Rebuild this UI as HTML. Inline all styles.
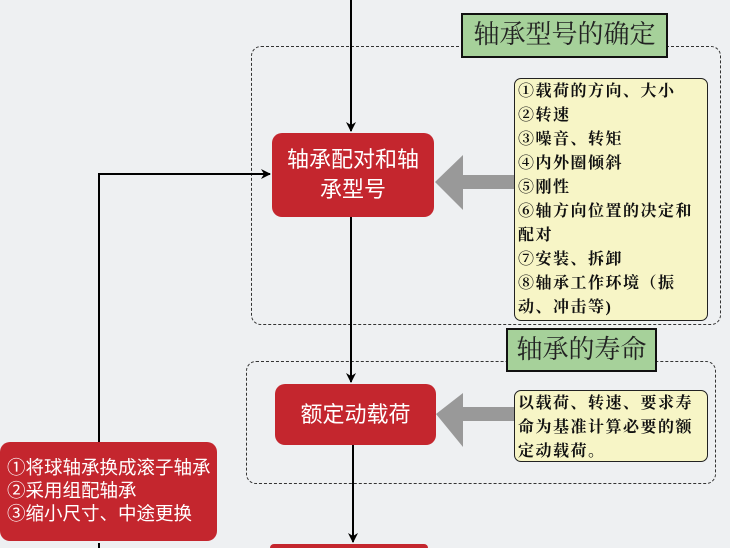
<!DOCTYPE html>
<html style="width:730px;height:548px;overflow:hidden"><head><meta charset="utf-8"><style>
body{margin:0;width:730px;height:548px;overflow:hidden;background:#eef0f2;font-family:"Liberation Sans","Noto Sans CJK SC",sans-serif;position:relative}
div{position:absolute;box-sizing:border-box}
.dash{border:1px dashed #333;border-radius:10px}
.green{background:#a6d19a;border:2px solid #111;font-size:26px;color:#222;text-align:center;line-height:40px;font-family:"Liberation Serif","Noto Serif CJK SC",serif}
.red{background:#c4262e;border-radius:10px;color:#fff;text-align:center}
.yel{background:#f7f5c6;border:1px solid #222;border-radius:7px;font-size:16px;letter-spacing:1.5px;color:#111;font-family:"Liberation Serif","Noto Serif CJK SC",serif;font-weight:bold;padding:1px 3px;line-height:24px}
</style></head><body>
<div class="dash" style="left:251px;top:46px;width:470px;height:279px"></div>
<div class="green" style="left:461px;top:13px;width:207px;height:45px">轴承型号的确定</div>
<div class="dash" style="left:246px;top:361px;width:470px;height:123px"></div>
<div class="green" style="left:506px;top:328px;width:151px;height:44px">轴承的寿命</div>
<svg width="730" height="548" style="position:absolute;left:0;top:0">
<defs><marker id="a" markerWidth="10" markerHeight="10" refX="9" refY="5" orient="auto" markerUnits="userSpaceOnUse"><path d="M0,0 L10,5 L0,10 L3,5z" fill="#000"/></marker></defs>
<g stroke="#000" stroke-width="2" fill="none">
<line x1="351" y1="0" x2="351" y2="131" marker-end="url(#a)"/>
<line x1="351" y1="217" x2="351" y2="382" marker-end="url(#a)"/>
<line x1="353" y1="445" x2="353" y2="542" marker-end="url(#a)"/>
<polyline points="99,442 99,174 270,174" marker-end="url(#a)"/>
<line x1="99" y1="548" x2="99" y2="543"/>
</g>
<polygon points="435,182 463,155 463,175 514,175 514,189 463,189 463,210" fill="#999"/>
<polygon points="436,414 463,393 463,407 514,407 514,421 463,421 463,447" fill="#999"/>
</svg>
<div class="red" style="left:272px;top:133px;width:162px;height:84px;font-size:22px;line-height:30px;padding-top:12px">轴承配对和轴<br>承型号</div>
<div class="yel" style="left:514px;top:78px;width:194px;height:243px">①载荷的方向、大小<br>②转速<br>③噪音、转矩<br>④内外圈倾斜<br>⑤刚性<br>⑥轴方向位置的决定和<br>配对<br>⑦安装、拆卸<br>⑧轴承工作环境（振<br>动、冲击等)</div>
<div class="red" style="left:275px;top:384px;width:161px;height:61px;font-size:22px;line-height:61px">额定动载荷</div>
<div class="yel" style="left:514px;top:390px;width:194px;height:72px">以载荷、转速、要求寿<br>命为基准计算必要的额<br>定动载荷。</div>
<div class="red" style="left:0;top:442px;width:217px;height:99px;font-size:18.5px;line-height:23px;text-align:left;padding:14px 0 0 7px;white-space:nowrap">①将球轴承换成滚子轴承<br>②采用组配轴承<br>③缩小尺寸、中途更换</div>
<div class="red" style="left:270px;top:544px;width:158px;height:4px;border-radius:6px 6px 0 0"></div>
</body></html>
